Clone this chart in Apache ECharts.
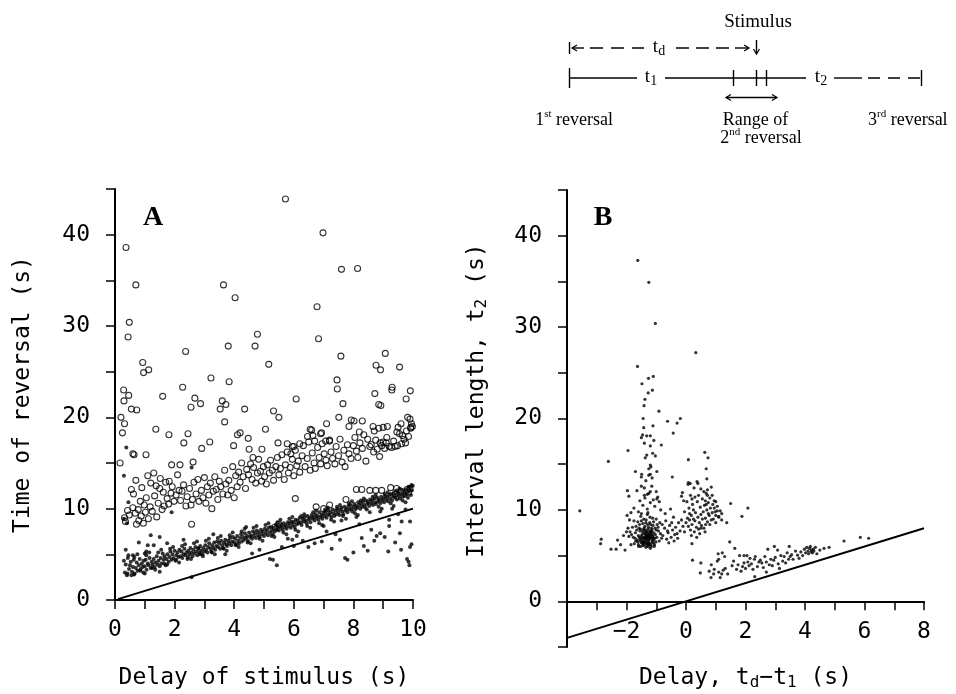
<!DOCTYPE html>
<html>
<head>
<meta charset="utf-8">
<title>Reversal timing</title>
<script src="https://cdn.jsdelivr.net/npm/echarts@6/dist/echarts.min.js"></script>
<style>
  html, body { margin: 0; padding: 0; background: #fff; }
  #main { width: 956px; height: 694px; }
</style>
</head>
<body>
<div id="main"></div>
<script>
// panel A, filled dots: the main band
var bandA = [
  [0.30,4.3],[0.33,3.0],[0.36,3.9],[0.40,2.7],[0.43,4.6],[0.47,3.4],[0.50,3.8],[0.53,4.2],[0.57,3.1],[0.60,3.6],
  [0.63,4.4],[0.66,2.9],[0.70,3.5],[0.73,4.1],[0.76,3.2],[0.80,3.8],[0.83,4.5],[0.86,3.4],[0.90,4.0],[0.93,3.6],
  [0.96,4.3],[1.00,3.7],[1.03,4.4],[1.06,3.3],[1.10,4.0],[1.13,3.8],[1.16,4.6],[1.20,3.5],[1.23,4.2],[1.26,3.9],
  [1.30,4.5],[1.33,3.6],[1.36,4.1],[1.40,4.8],[1.43,3.9],[1.46,4.3],[1.50,3.7],[1.53,4.6],[1.56,4.0],[1.60,5.1],
  [1.63,4.4],[1.66,4.8],[1.70,3.8],[1.73,4.5],[1.76,5.0],[1.80,4.2],[1.83,4.7],[1.86,5.3],[1.90,4.4],[1.93,5.0],
  [1.96,4.6],[2.00,5.4],[2.03,4.3],[2.06,4.9],[2.10,5.2],[2.13,4.7],[2.16,5.5],[2.20,4.8],[2.23,5.3],[2.26,4.6],
  [2.30,5.0],[2.33,5.6],[2.36,4.9],[2.40,5.2],[2.43,4.5],[2.46,5.4],[2.50,5.0],[2.53,5.7],[2.56,5.2],[2.60,4.8],
  [2.63,5.5],[2.66,5.1],[2.70,5.8],[2.73,5.3],[2.76,4.9],[2.80,5.6],[2.83,5.2],[2.86,5.9],[2.90,5.4],[2.93,5.0],
  [2.96,5.7],[3.00,5.3],[3.03,6.0],[3.06,5.5],[3.10,5.2],[3.13,5.8],[3.16,6.2],[3.20,5.6],[3.23,5.3],[3.26,6.0],
  [3.30,5.7],[3.33,6.3],[3.36,5.5],[3.40,5.9],[3.43,6.4],[3.46,5.8],[3.50,6.2],[3.53,5.6],[3.56,6.5],[3.60,6.0],
  [3.63,5.7],[3.66,6.3],[3.70,6.6],[3.73,6.1],[3.76,5.9],[3.80,6.5],[3.83,6.2],[3.86,6.8],[3.90,6.0],[3.93,6.4],
  [3.96,6.9],[4.00,6.3],[4.03,6.7],[4.06,6.1],[4.10,7.0],[4.13,6.5],[4.16,6.2],[4.20,6.8],[4.23,7.2],[4.26,6.4],
  [4.30,6.9],[4.33,6.6],[4.36,7.3],[4.40,6.8],[4.43,7.0],[4.46,6.5],[4.50,7.4],[4.53,6.9],[4.56,7.1],[4.60,6.7],
  [4.63,7.5],[4.66,7.0],[4.70,7.3],[4.73,6.8],[4.76,7.6],[4.80,7.1],[4.83,7.4],[4.86,6.9],[4.90,7.7],[4.93,7.2],
  [4.96,7.5],[5.00,7.0],[5.03,7.8],[5.06,7.3],[5.10,7.6],[5.13,7.1],[5.16,7.9],[5.20,7.4],[5.23,8.0],[5.26,7.6],
  [5.30,7.2],[5.33,7.9],[5.36,7.5],[5.40,8.2],[5.43,7.7],[5.46,8.0],[5.50,7.6],[5.53,8.3],[5.56,7.9],[5.60,8.1],
  [5.63,7.7],[5.66,8.4],[5.70,8.0],[5.73,8.2],[5.76,7.8],[5.80,8.5],[5.83,8.1],[5.86,8.4],[5.90,7.9],[5.93,8.6],
  [5.96,8.2],[6.00,8.5],[6.03,8.0],[6.06,8.8],[6.10,8.3],[6.13,8.7],[6.16,8.4],[6.20,9.0],[6.23,8.5],[6.26,8.2],
  [6.30,8.9],[6.33,8.6],[6.36,9.1],[6.40,8.7],[6.43,8.4],[6.46,9.2],[6.50,8.8],[6.53,9.0],[6.56,8.5],[6.60,9.3],
  [6.63,8.9],[6.66,9.1],[6.70,8.7],[6.73,9.4],[6.76,9.0],[6.80,9.2],[6.83,8.8],[6.86,9.6],[6.90,9.1],[6.93,9.3],
  [6.96,8.9],[7.00,9.5],[7.03,9.2],[7.06,9.7],[7.10,9.0],[7.13,9.4],[7.16,9.8],[7.20,9.3],[7.23,9.6],[7.26,9.1],
  [7.30,9.9],[7.33,9.5],[7.36,9.2],[7.40,9.8],[7.43,9.4],[7.46,10.0],[7.50,9.6],[7.53,9.3],[7.56,9.9],[7.60,10.1],
  [7.63,9.7],[7.66,9.4],[7.70,10.2],[7.73,9.8],[7.76,10.0],[7.80,9.6],[7.83,10.3],[7.86,9.9],[7.90,10.4],[7.93,10.0],
  [7.96,9.7],[8.00,10.2],[8.03,10.5],[8.06,9.9],[8.10,10.3],[8.13,10.1],[8.16,10.7],[8.20,10.4],[8.23,10.0],[8.26,10.6],
  [8.30,10.2],[8.33,10.8],[8.36,10.4],[8.40,10.1],[8.43,10.9],[8.46,10.5],[8.50,10.7],[8.53,10.3],[8.56,11.0],[8.60,10.6],
  [8.63,10.9],[8.66,10.4],[8.70,11.1],[8.73,10.7],[8.76,10.5],[8.80,11.2],[8.83,10.8],[8.86,11.0],[8.90,10.6],[8.93,11.3],
  [8.96,10.9],[9.00,11.1],[9.03,10.7],[9.06,11.4],[9.10,11.0],[9.13,11.3],[9.16,10.8],[9.20,11.5],[9.23,11.1],[9.26,11.6],
  [9.30,10.9],[9.33,11.3],[9.36,11.7],[9.40,11.2],[9.43,11.5],[9.46,11.0],[9.50,11.8],[9.53,11.4],[9.56,11.1],[9.60,11.6],
  [9.63,12.0],[9.66,11.3],[9.70,11.7],[9.73,11.4],[9.76,12.1],[9.80,11.6],[9.83,11.2],[9.86,11.9],[9.90,12.3],[9.93,11.5],
  [9.96,12.0],[9.99,12.5]
];

// panel A, filled dots at the upper and lower edges of the band
var edgeA = [
  [0.45,4.9],[0.55,2.7],[0.75,5.0],[0.95,3.0],[1.15,5.2],[1.35,3.3],[1.55,5.5],[1.75,3.9],[1.95,5.8],[2.15,4.1],
  [2.35,6.1],[2.55,4.5],[2.75,6.4],[2.95,4.8],[3.15,6.7],[3.35,5.0],[3.55,7.0],[3.75,5.4],[3.95,7.4],[4.15,5.8],
  [4.35,7.8],[4.55,6.2],[4.75,8.1],[4.95,6.5],[5.15,8.4],[5.35,6.9],[5.55,8.8],[5.75,7.2],[5.95,9.1],[6.15,7.5],
  [6.35,9.4],[6.55,7.9],[6.75,9.8],[6.95,8.2],[7.15,10.1],[7.35,8.6],[7.55,10.4],[7.75,8.9],[7.95,10.8],[8.15,9.3],
  [8.35,11.1],[8.55,9.6],[8.75,11.5],[8.95,10.0],[9.15,11.8],[9.35,10.3],[9.55,12.2],[9.75,10.7],[9.95,12.6],
  [0.65,4.7],[0.85,3.2],[1.05,4.9],[1.25,3.5],[1.45,5.2],[1.65,4.0],[1.85,5.6],[2.05,4.4],[2.25,5.9],[2.45,4.7],
  [2.65,6.2],[2.85,5.0],[3.05,6.5],[3.25,5.2],[3.45,6.8],[3.65,5.6],[3.85,7.1],[4.05,6.0],[4.25,7.5],[4.45,6.3],
  [4.65,7.9],[4.85,6.7],[5.05,8.2],[5.25,7.0],[5.45,8.5],[5.65,7.4],[5.85,8.9],[6.05,7.7],[6.25,9.2],[6.45,8.1],
  [6.65,9.6],[6.85,8.4],[7.05,9.9],[7.25,8.8],[7.45,10.2],[7.65,9.2],[7.85,10.6],[8.05,9.5],[8.25,10.9],[8.45,9.9],
  [8.65,11.3],[8.85,10.2],[9.05,11.6],[9.25,10.6],[9.45,12.0],[9.65,10.9],[9.85,12.4]
];

// panel A, filled dots away from the band
var strayA = [
  [0.36,5.5],[0.60,4.9],[1.00,5.1],[1.05,5.3],[1.10,6.0],[1.30,6.0],[1.50,6.9],[2.30,6.6],[2.80,5.7],[0.42,2.9],
  [0.64,2.8],[1.00,2.9],[1.50,3.1],[2.57,2.5],[0.30,13.6],[0.38,16.7],[0.45,10.7],[2.57,14.5],[1.90,9.6],[0.30,8.9],
  [0.40,8.4],[1.20,7.1],[0.80,6.3],[1.75,6.2],[3.30,7.2],[4.40,8.0],[4.60,5.1],[3.70,5.0],[4.85,5.5],[5.20,4.5],
  [5.30,4.4],[5.43,3.8],[5.60,5.8],[5.95,6.6],[6.10,7.0],[6.30,6.5],[6.49,5.8],[6.70,6.2],[6.94,6.4],[7.00,8.1],
  [7.27,5.6],[7.55,6.6],[7.72,4.6],[7.80,4.4],[8.00,5.2],[8.20,8.3],[8.28,6.8],[8.48,5.4],[8.60,7.7],[8.78,7.0],
  [8.90,7.3],[9.17,5.3],[9.20,8.1],[9.20,8.8],[9.40,6.3],[9.56,7.3],[9.62,8.6],[9.80,4.5],[9.85,4.2],[9.90,5.8],
  [9.90,8.6],[9.95,6.1],[8.35,5.9],[7.40,7.2],[6.00,5.9],[5.80,6.7],[7.10,7.5],[7.60,8.7],[8.10,9.1],[8.90,9.7],
  [9.50,9.4],[9.75,9.9],[9.30,10.0],[8.70,6.5],[9.05,6.9],[9.60,5.5],[9.88,3.8]
];

// panel A, open circles
var openA = [
  [5.72,43.9],[0.37,38.6],[6.98,40.2],[0.70,34.5],[3.64,34.5],[4.03,33.1],[7.60,36.2],[8.14,36.3],[6.78,32.1],[0.48,30.4],
  [0.44,28.8],[4.78,29.1],[4.70,27.8],[3.80,27.8],[6.83,28.6],[2.37,27.2],[9.07,27.0],[7.58,26.7],[5.16,25.8],[8.76,25.7],
  [9.55,25.5],[8.91,25.2],[0.93,26.0],[0.96,24.9],[1.13,25.2],[3.22,24.3],[3.83,23.9],[7.45,24.1],[0.29,23.0],[2.27,23.3],
  [7.46,23.1],[9.30,23.3],[9.29,23.0],[9.91,22.9],[0.46,22.4],[0.30,21.8],[1.60,22.3],[2.68,22.1],[2.87,21.5],[2.55,21.1],
  [3.60,21.8],[3.72,21.4],[3.53,20.9],[6.08,22.0],[8.72,22.6],[8.85,21.4],[8.92,21.3],[7.65,21.5],[9.77,22.0],[4.35,20.9],
  [5.32,20.7],[0.55,20.9],[0.73,20.8],[0.20,20.0],[5.50,20.0],[7.51,20.0],[9.82,20.0],[0.32,19.3],[3.68,19.5],[7.10,19.3],
  [7.93,19.7],[8.02,19.6],[8.30,19.6],[9.60,19.3],[9.95,19.3],[0.25,18.3],[1.37,18.7],[1.81,18.1],[2.45,18.2],[5.05,18.7],
  [6.55,18.7],[6.93,18.3],[7.85,19.0],[8.66,19.0],[9.14,19.0],[9.46,18.4],[6.64,18.0],[0.17,15.0],[0.60,16.0],[0.64,15.9],
  [1.04,15.9],[2.31,17.2],[3.18,17.3],[2.91,16.6],[2.62,15.1],[1.90,14.8],[2.18,14.8],[3.98,16.9],[4.11,18.1],[4.20,18.3],
  [4.47,17.7],[4.50,16.5],[4.63,15.6],[4.93,16.5],[5.47,17.2],[5.78,17.1],[5.95,16.8],[6.00,16.8],[5.90,16.0],[6.20,17.1],
  [6.46,17.9],[6.60,18.6],[6.70,17.4],[6.90,18.2],[7.07,17.4],[7.20,17.5],[8.20,18.4],[8.70,18.5],[8.85,18.8],[9.00,18.9],
  [8.90,17.2],[9.10,17.2],[9.50,18.9],[9.65,18.0],[9.75,17.2],[9.90,19.8],[9.93,18.9],
  [0.32,9.0],[0.35,8.6],[0.42,9.8],[0.48,9.3],[0.55,12.1],[0.60,10.1],[0.62,11.6],[0.68,9.5],[0.70,13.1],[0.72,8.3],
  [0.78,9.9],[0.80,8.7],[0.85,10.8],[0.88,9.2],[0.90,12.3],[0.95,8.4],[0.98,10.4],[1.02,9.6],[1.05,11.2],[1.10,13.6],
  [1.12,8.9],[1.18,10.2],[1.20,12.8],[1.25,9.7],[1.30,13.9],[1.33,11.4],[1.38,12.5],[1.40,9.1],[1.45,10.6],[1.50,12.2],
  [1.52,13.3],[1.58,9.9],[1.62,11.8],[1.65,10.3],[1.70,12.9],[1.75,11.1],[1.80,10.5],[1.82,13.0],[1.88,11.7],[1.92,12.4],
  [1.98,10.8],[2.05,11.5],[2.10,13.7],[2.15,12.0],[2.20,10.9],[2.25,11.9],[2.30,12.6],[2.38,10.3],[2.42,11.3],[2.50,12.2],
  [2.55,10.4],[2.60,11.0],[2.65,12.9],[2.72,11.6],[2.78,13.2],[2.82,10.8],[2.90,12.0],[2.95,11.2],[3.00,13.4],[3.05,10.6],
  [3.10,12.4],[3.15,11.5],[3.20,12.8],[3.25,10.0],[3.30,11.9],[3.35,13.5],[3.40,12.1],[3.45,11.0],[3.50,13.0],[3.55,12.4],
  [3.62,11.6],[3.68,14.2],[3.72,12.7],[3.78,11.5],[3.82,13.1],[3.90,12.0],[3.95,14.6],[4.00,11.2],[4.05,13.6],[4.10,12.4],
  [4.15,14.0],[4.20,12.9],[4.25,15.0],[4.30,13.5],[4.38,12.2],[4.42,14.3],[4.48,13.7],[4.55,14.9],[4.60,13.2],[4.65,14.5],
  [4.72,12.8],[4.78,13.9],[4.82,15.4],[4.88,14.1],[4.92,13.0],[4.98,14.6],[5.02,13.5],[5.08,12.7],[5.12,14.8],[5.18,13.9],
  [5.22,15.3],[5.28,14.2],[5.32,13.1],[5.40,14.6],[5.45,15.6],[5.50,13.7],[5.55,14.4],[5.60,15.9],[5.68,13.2],[5.72,14.8],
  [5.78,16.2],[5.82,13.9],[5.88,14.5],[5.95,15.4],[6.00,13.6],[6.05,16.4],[6.10,14.7],[6.15,15.2],[6.20,14.0],[6.28,15.8],
  [6.32,16.9],[6.38,14.6],[6.45,15.5],[6.50,17.3],[6.55,14.2],[6.62,16.1],[6.68,15.0],[6.72,14.4],[6.80,16.7],[6.85,15.6],
  [6.90,14.9],[6.95,17.1],[7.02,16.0],[7.08,15.3],[7.12,14.7],[7.20,17.4],[7.25,16.2],[7.30,15.5],[7.38,14.9],[7.42,16.8],
  [7.50,15.8],[7.55,17.6],[7.62,15.1],[7.68,16.4],[7.72,14.6],[7.80,17.0],[7.85,16.0],[7.92,15.5],[8.00,16.9],[8.05,17.8],
  [8.10,16.3],[8.15,15.6],[8.22,17.2],[8.30,16.6],[8.35,18.1],[8.42,15.2],[8.48,17.6],[8.55,16.8],[8.60,17.0],[8.68,16.2],
  [8.75,17.5],[8.80,16.5],[8.88,15.7],[8.95,16.9],[9.00,17.3],[9.05,16.6],[9.12,17.8],[9.20,16.8],[9.28,16.7],[9.35,17.4],
  [9.40,16.8],[9.48,16.9],[9.55,18.2],[9.62,17.1],[9.70,17.6],[9.78,18.5],[9.85,17.9],[9.92,18.8],[9.98,19.0],
  [7.00,10.0],[7.20,10.4],[7.75,11.0],[8.10,12.1],[8.28,12.1],[8.55,12.0],[8.75,12.0],[8.95,12.0],[9.25,12.3],[9.45,12.2],
  [9.60,11.9],[9.80,12.1],[6.05,11.1],[5.50,8.3],[5.37,8.0],[2.57,8.3],[6.75,10.2],[9.90,12.2],[9.85,11.8],[9.40,11.6]
];

// panel B, dots
var streamB = [
  [-1.62,37.3],[-1.25,34.9],[-1.03,30.4],[0.33,27.2],[-1.63,25.7],[-1.26,24.4],[-1.10,24.6],[-1.13,23.1],[-1.38,22.1],[-1.41,21.4],
  [-0.91,20.8],[-1.44,20.0],[-0.62,19.7],[-0.30,19.5],[-0.19,20.0],[-1.11,19.2],[-1.42,19.0],[-1.46,18.2],[-1.32,18.1],[-1.20,18.1],
  [-0.43,18.4],[-1.40,17.3],[-1.20,17.0],[-0.83,17.1],[-1.95,16.5],[-1.12,16.2],[-1.03,15.9],[-1.37,15.7],[-2.61,15.3],[-1.20,14.9],
  [-1.18,14.7],[0.08,15.5],[0.63,16.3],[0.74,15.7],[0.68,14.5],[-1.70,14.2],[-0.98,14.2],[-0.46,13.6],[-1.49,13.9],[-1.35,13.2],
  [-1.14,13.5],[-1.25,13.8],[0.08,13.0],[0.14,12.9],[0.37,13.1],[-1.97,12.1],[-1.50,12.6],[-1.30,11.7],[-1.20,12.0],[-1.40,12.4],
  [0.50,12.3],[-0.12,11.9],[-0.15,11.5],[-1.92,11.5],[-0.98,11.2],[-0.90,10.9],[0.65,11.0],[0.72,11.6],[0.68,10.6],[0.20,11.2],
  [1.50,10.7],[2.08,10.2],[1.88,9.3],[1.37,8.6],[1.00,9.4],[1.05,9.9],[1.20,9.6],[1.10,9.2],
  [-1.60,9.8],[-1.75,10.2],[-1.45,10.5],[-1.30,10.1],[-1.20,10.8],[-1.55,11.0],[-1.38,11.3],[-1.05,10.4],[-1.65,12.1],[-1.25,11.8],
  [-1.15,12.6],[-1.50,13.6],[-1.20,13.9],[-1.25,14.5],[-1.40,11.6],[-1.10,11.1],[-0.95,11.4],[-1.85,9.7],[-1.00,12.0],[-1.50,9.6],
  [-0.85,10.0],[-1.28,9.7],[-1.32,16.0],[-1.50,17.9],[-1.08,17.6],[-1.27,22.8],[-1.48,23.8]
];

var coreB = [
  [-1.32,7.1],[-1.25,6.8],[-1.41,7.4],[-1.18,7.6],[-1.36,6.5],[-1.28,7.9],[-1.47,6.9],[-1.12,7.2],[-1.22,6.3],[-1.55,7.7],
  [-1.05,6.9],[-1.38,8.2],[-1.30,6.1],[-1.16,8.0],[-1.50,6.4],[-1.43,7.0],[-1.20,7.4],[-1.34,7.7],[-1.26,6.6],[-1.08,7.5],
  [-1.60,7.2],[-1.45,8.5],[-1.10,6.4],[-1.35,5.9],[-1.22,8.6],[-1.52,6.0],[-1.00,7.8],[-1.65,6.7],[-1.40,6.2],[-1.15,6.7],
  [-1.29,8.4],[-1.58,8.0],[-0.98,7.0],[-1.70,7.5],[-1.19,7.0],[-1.33,7.3],[-1.24,7.2],[-1.46,7.6],[-1.11,8.3],[-1.37,6.8],
  [-1.27,6.0],[-1.54,6.6],[-1.06,6.2],[-1.42,9.0],[-1.21,9.2],[-1.62,8.7],[-0.94,8.1],[-1.74,6.3],[-1.31,6.4],[-1.17,6.0],
  [-1.48,7.3],[-1.03,7.3],[-1.39,7.8],[-1.25,7.5],[-1.57,7.0],[-1.13,6.5],[-1.44,6.1],[-0.90,6.6],[-1.68,8.2],[-1.34,8.9],
  [-1.09,8.7],[-1.50,8.8],[-1.23,6.9],[-1.36,7.5],[-1.28,7.0],[-1.14,7.8],[-1.40,6.6],[-1.20,5.8],[-1.60,6.2],[-1.01,6.5],
  [-1.77,7.0],[-1.53,7.9],[-1.30,9.5],[-0.86,7.4],[-1.45,6.3],[-1.26,8.1],[-1.18,6.2],[-1.66,7.8],[-1.35,7.2],[-1.12,6.9],
  [-0.97,8.4],[-1.83,7.3],[-1.48,6.7],[-1.22,7.7],[-1.30,6.7],[-1.56,8.4],[-1.07,6.0],[-1.41,8.0],[-1.15,7.3],[-1.71,6.9],
  [-1.24,6.4],[-1.37,7.0],[-0.93,7.7],[-1.50,7.1],[-1.19,8.4],[-1.62,6.5],[-1.33,6.3],[-1.10,7.0],[-1.44,7.8],[-1.27,7.3],
  [-1.88,7.6],[-0.82,6.9],[-1.59,6.0],[-1.04,8.0],[-1.39,6.9],[-1.21,7.1],[-1.32,7.6],[-1.46,6.5],[-1.16,7.6],[-1.29,6.9],
  [-1.80,8.1],[-1.69,6.6],[-1.00,9.0],[-1.52,9.3],[-1.35,8.6],[-1.12,9.1],[-0.88,8.6],[-1.75,8.8],[-1.92,7.1],[-1.25,6.2],
  [-1.43,6.4],[-1.08,6.7],[-1.55,6.8],
  [-3.57,9.9],[-2.85,6.8],[-2.87,6.3],[-2.52,5.7],[-2.35,5.7],[-2.05,5.6],[-2.30,6.7],[-1.95,8.0],[-1.90,8.9],[-1.98,9.4],
  [-2.00,7.6],[-1.85,6.2],[-2.10,7.2],[-2.20,6.2]
];

var midB = [
  [-0.78,7.2],[-0.72,8.0],[-0.65,6.8],[-0.60,7.5],[-0.55,8.3],[-0.50,7.0],[-0.45,7.8],[-0.40,6.6],[-0.35,8.1],[-0.30,7.4],
  [-0.25,8.6],[-0.20,7.7],[-0.15,8.9],[-0.10,8.2],[-0.05,7.6],[-0.68,8.8],[-0.58,6.4],[-0.42,9.2],[-0.70,9.6],[-0.52,10.1],
  [-0.62,7.7],[-0.38,7.3],[-0.28,6.9],[-0.48,8.6],[-0.80,8.4],
  [0.00,8.6],[0.05,9.1],[0.08,8.2],[0.10,10.2],[0.12,8.9],[0.15,7.8],[0.18,9.4],[0.20,8.4],[0.22,10.6],[0.25,9.0],
  [0.28,7.6],[0.30,8.8],[0.32,9.7],[0.35,8.1],[0.38,10.9],[0.40,9.2],[0.42,7.9],[0.45,8.6],[0.48,10.3],[0.50,9.5],
  [0.52,8.3],[0.55,11.2],[0.58,9.8],[0.60,8.0],[0.62,10.5],[0.65,9.1],[0.68,11.8],[0.70,10.0],[0.72,8.7],[0.75,10.8],
  [0.78,9.4],[0.80,11.3],[0.82,10.2],[0.85,8.9],[0.88,9.7],[0.90,10.6],[0.92,9.0],[0.95,11.0],[0.98,9.8],[1.00,8.6],
  [1.05,10.4],[1.10,9.3],[1.15,9.9],[1.20,8.9],[0.03,10.9],[0.15,11.6],[0.27,12.4],[0.07,12.8],[0.40,12.9],[0.60,12.0],
  [0.72,12.2],[0.85,12.5],[0.30,11.4],[0.46,7.4],[0.64,7.6],[0.18,7.2],[0.36,7.0],[-0.05,9.8],[-0.08,11.0],[0.55,9.0],
  [0.75,9.6],[0.95,10.2],[0.25,10.0],[0.12,9.6],[0.66,8.4],[0.42,11.6],[0.88,11.6],[0.50,8.0],[1.00,10.9],[0.80,8.4],
  [0.70,13.4],[0.20,6.3],[0.22,4.5],[0.50,4.2],[0.48,3.1],[0.78,3.3],[0.85,4.0],[0.93,3.0]
];

var tailB = [
  [0.84,2.6],[1.05,4.4],[1.10,4.6],[1.08,5.2],[1.10,3.2],[1.15,2.6],[1.20,3.0],[1.30,4.9],[1.32,3.6],[1.40,3.0],
  [1.47,6.5],[1.64,5.8],[1.70,3.5],[1.75,4.0],[1.80,5.0],[1.85,3.3],[1.90,3.8],[1.95,5.0],[2.00,3.6],[2.05,5.0],
  [2.08,4.3],[2.12,3.9],[2.20,4.1],[2.25,3.5],[2.31,2.7],[2.33,4.9],[2.30,4.6],[2.40,3.8],[2.50,4.5],[2.55,4.2],
  [2.60,3.7],[2.65,4.9],[2.70,4.3],[2.75,5.7],[2.80,4.0],[2.85,4.6],[2.90,3.9],[2.97,6.0],[3.00,4.8],[3.08,5.6],
  [3.14,3.6],[3.19,5.0],[3.25,4.4],[3.30,4.9],[3.35,4.2],[3.40,5.3],[3.47,6.0],[3.50,4.9],[3.55,5.1],[3.60,4.6],
  [3.68,5.5],[3.75,5.05],[3.80,4.7],[3.86,5.4],[3.92,5.0],[3.98,5.7],[4.02,5.3],[4.06,5.9],[4.10,5.5],[4.12,5.2],
  [4.15,5.8],[4.18,6.0],[4.20,5.4],[4.22,5.6],[4.25,5.3],[4.28,5.7],[4.30,5.5],[4.35,5.9],[4.40,5.2],[4.50,5.6],
  [4.64,5.8],[4.81,5.9],[5.31,6.6],[5.86,7.0],[6.14,6.9],[1.25,3.4],[1.55,3.9],[1.60,4.4],[2.15,4.7],[2.45,4.3],
  [2.95,4.5],[3.10,4.1],[3.45,4.6],[1.95,4.2],[2.70,3.2],[1.22,5.3],[0.95,3.5]
];

// the t = delay reference lines
var diagA = [[0.1, 0.1], [10, 10]];
var diagB = [[-4, -4], [8, 8]];

// tick labels
var ticksAX = [0, 2, 4, 6, 8, 10];
var ticksBX = [-2, 0, 2, 4, 6, 8];
var ticksY = [0, 10, 20, 30, 40];

(function () {
  var dom = document.getElementById("main");
  var myChart = echarts.init(dom, null, { renderer: 'canvas' });

  var mono = "'DejaVu Sans Mono', monospace";
  var serif = "'Liberation Serif', 'Times New Roman', serif";

  var nameRich = {
    m: { fontFamily: mono, fontSize: 23, lineHeight: 26, color: '#000' },
    s: { fontFamily: mono, fontSize: 16, lineHeight: 12, verticalAlign: 'bottom', color: '#000' }
  };

  function axisStyle(labels, minus) {
    return {
      axisLine: { onZero: false, lineStyle: { color: '#000', width: 2 } },
      axisTick: { show: true, length: 9, lineStyle: { color: '#000', width: 1.5 } },
      axisLabel: {
        color: '#000',
        fontFamily: mono,
        fontSize: 23,
        showMinLabel: true,
        showMaxLabel: true,
        formatter: function (v) {
          if (labels.indexOf(v) < 0) return '';
          return minus ? String(v).replace('-', '\u2212') : String(v);
        }
      },
      splitLine: { show: false }
    };
  }

  var xA = echarts.util.merge({
    gridIndex: 0, type: 'value', min: 0, max: 10, interval: 1,
    name: 'Delay of stimulus (s)', nameLocation: 'middle', nameGap: 67,
    nameTextStyle: { fontFamily: mono, fontSize: 23, color: '#000' }
  }, axisStyle(ticksAX, false));
  xA.axisLabel.margin = 19;

  var yA = echarts.util.merge({
    gridIndex: 0, type: 'value', min: 0, max: 45, interval: 5,
    name: 'Time of reversal (s)', nameLocation: 'middle', nameGap: 80,
    nameTextStyle: { fontFamily: mono, fontSize: 23, color: '#000' }
  }, axisStyle(ticksY, false));
  yA.axisLabel.margin = 25;

  // B's x axis sits on y = 0, i.e. 5/50 of the grid height above its bottom
  var xB = echarts.util.merge({
    gridIndex: 1, type: 'value', min: -4, max: 8, interval: 1, offset: -45.7,
    name: '{m|Delay, t}{s|d}{m|\u2212t}{s|1}{m| (s)}', nameLocation: 'middle', nameGap: 64,
    nameTextStyle: { rich: nameRich }
  }, axisStyle(ticksBX, true));
  xB.axisLabel.margin = 19;

  var yB = echarts.util.merge({
    gridIndex: 1, type: 'value', min: -5, max: 45, interval: 5,
    name: '{m|Interval length, t}{s|2}{m| (s)}', nameLocation: 'middle', nameGap: 77,
    nameTextStyle: { rich: nameRich, padding: [0, 0, 0, 36] }
  }, axisStyle(ticksY, false));
  yB.axisLabel.margin = 25;

  // small helpers for the schematic at the top right
  function seg(x1, y1, x2, y2, dash) {
    return {
      type: 'line', silent: true,
      shape: { x1: x1, y1: y1, x2: x2, y2: y2 },
      style: { stroke: '#000', lineWidth: 1.4, lineDash: dash || null }
    };
  }
  function head(points) {
    return { type: 'polyline', silent: true, shape: { points: points }, style: { stroke: '#000', lineWidth: 1.2, fill: null } };
  }
  function label(x, y, text, align, size) {
    return {
      type: 'text', silent: true,
      style: {
        x: x, y: y, text: text, align: align || 'center', verticalAlign: 'middle',
        fill: '#000', fontFamily: serif, fontSize: size || 18,
        rich: {
          a: { fontFamily: serif, fontSize: size || 18, lineHeight: 22, color: '#000' },
          p: { fontFamily: serif, fontSize: 11, lineHeight: 10, verticalAlign: 'top', color: '#000' },
          s: { fontFamily: serif, fontSize: 14, lineHeight: 10, verticalAlign: 'bottom', color: '#000' }
        }
      }
    };
  }

  var graphic = [
    // panel letters
    { type: 'text', silent: true, style: { x: 153, y: 218, text: 'A', align: 'center', verticalAlign: 'middle', fontFamily: serif, fontSize: 28, fontWeight: 'bold', fill: '#000' } },
    { type: 'text', silent: true, style: { x: 603, y: 218, text: 'B', align: 'center', verticalAlign: 'middle', fontFamily: serif, fontSize: 28, fontWeight: 'bold', fill: '#000' } },

    label(758, 22, 'Stimulus', 'center', 19),
    // t_d row
    seg(569.5, 42, 569.5, 54),
    seg(572, 48, 584, 48), head([[577, 45], [572, 48], [577, 51]]),
    seg(590, 48, 644, 48, [13, 8]),
    label(659, 47, '{a|t}{s|d}', 'center', 19),
    seg(676, 48, 731, 48, [13, 7]),
    seg(735, 48, 749, 48), head([[744, 45], [749, 48], [744, 51]]),
    seg(756.5, 40, 756.5, 54), head([[753.5, 49], [756.5, 54], [759.5, 49]]),
    // t1 / t2 row
    seg(569.5, 68, 569.5, 88),
    seg(569.5, 78, 637, 78),
    label(651, 77, '{a|t}{s|1}', 'center', 19),
    seg(665, 78, 806, 78),
    seg(733.5, 70, 733.5, 86), seg(756.5, 70, 756.5, 86), seg(766.5, 70, 766.5, 86),
    label(821, 77, '{a|t}{s|2}', 'center', 19),
    seg(834, 78, 862, 78),
    seg(868, 78, 920, 78, [12, 8]),
    seg(921.5, 70, 921.5, 86),
    // range of the second reversal
    seg(726, 97.5, 777, 97.5),
    head([[731, 94.5], [726, 97.5], [731, 100.5]]),
    head([[772, 94.5], [777, 97.5], [772, 100.5]]),
    label(613, 120, '{a|1}{p|st}{a| reversal}', 'right'),
    label(755.5, 120, 'Range of', 'center'),
    label(761, 138, '{a|2}{p|nd}{a| reversal}', 'center'),
    label(868, 120, '{a|3}{p|rd}{a| reversal}', 'left')
  ];

  var option = {
    backgroundColor: '#fff',
    animation: false,
    grid: [
      { left: 115, top: 189, width: 298, height: 411, outerBoundsMode: 'none' },
      { left: 567, top: 190, width: 357, height: 457, outerBoundsMode: 'none' }
    ],
    xAxis: [xA, xB],
    yAxis: [yA, yB],
    graphic: graphic,
    series: [
      {
        type: 'line', xAxisIndex: 0, yAxisIndex: 0, data: diagA,
        showSymbol: false, silent: true, lineStyle: { color: '#000', width: 2 }
      },
      {
        type: 'scatter', xAxisIndex: 0, yAxisIndex: 0, data: bandA.concat(edgeA, strayA),
        symbol: 'circle', symbolSize: 4, progressive: 0, silent: true,
        itemStyle: { color: '#000' }
      },
      {
        type: 'scatter', xAxisIndex: 0, yAxisIndex: 0, data: openA,
        symbol: 'circle', symbolSize: 6, progressive: 0, silent: true,
        itemStyle: { color: 'rgba(255,255,255,0)', borderColor: '#000', borderWidth: 1.1 }
      },
      {
        type: 'line', xAxisIndex: 1, yAxisIndex: 1, data: diagB,
        showSymbol: false, silent: true, lineStyle: { color: '#000', width: 2 }
      },
      {
        type: 'scatter', xAxisIndex: 1, yAxisIndex: 1, data: streamB.concat(coreB, midB, tailB),
        symbol: 'circle', symbolSize: 3.2, progressive: 0, silent: true,
        itemStyle: { color: '#000' }
      }
    ]
  };

  if (option && typeof option === 'object') {
    myChart.setOption(option);
  }
})();
</script>
</body>
</html>
